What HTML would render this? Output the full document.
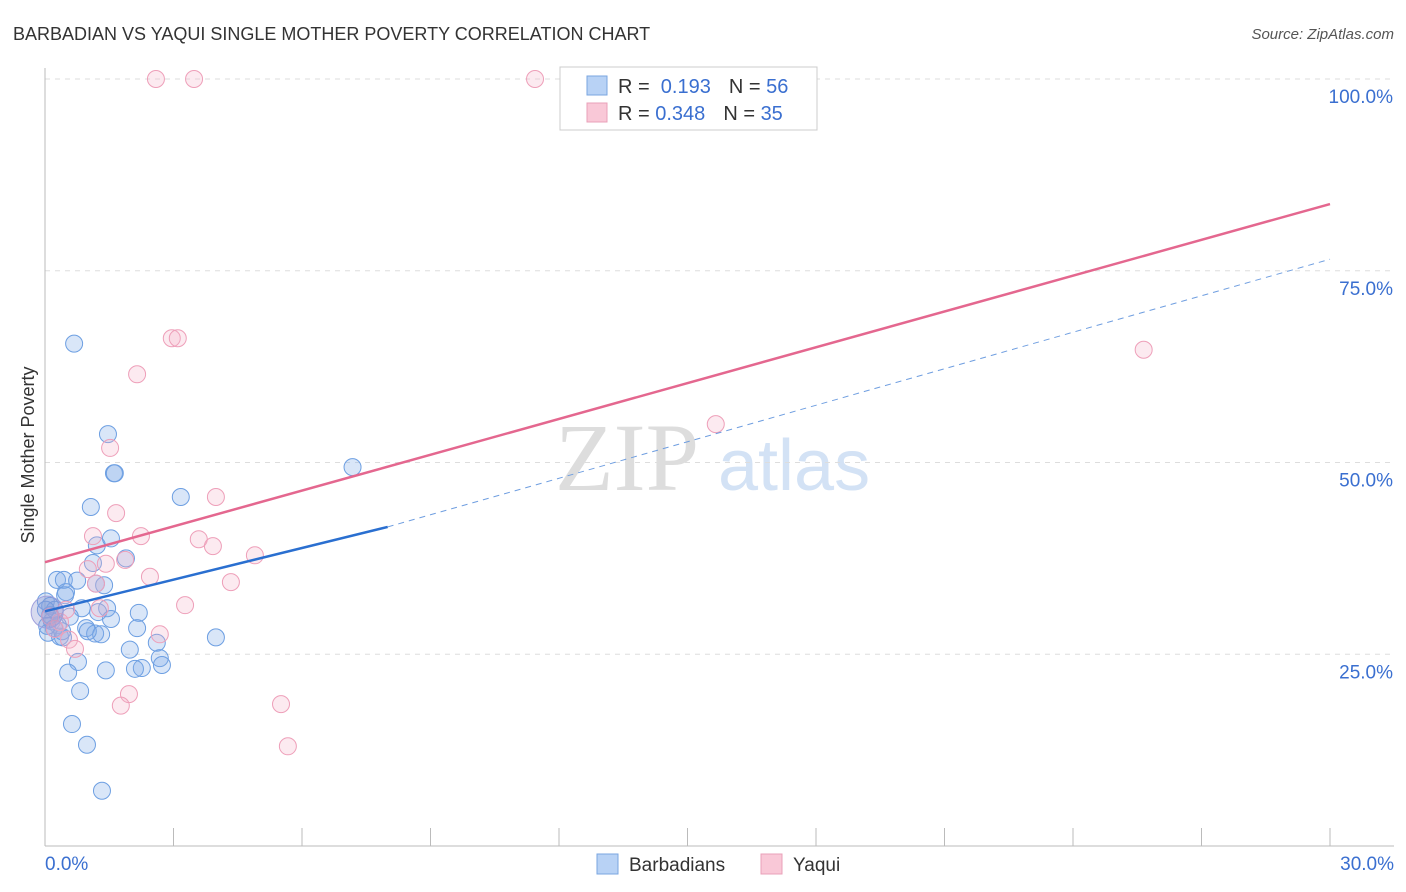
<!DOCTYPE html>
<html><head><meta charset="utf-8"><style>
body{margin:0;background:#fff;font-family:"Liberation Sans",sans-serif}
svg{display:block}
</style></head><body>
<svg id="chart" width="1406" height="892" xmlns="http://www.w3.org/2000/svg">
<text x="13" y="40" font-size="18" fill="#333">BARBADIAN VS YAQUI SINGLE MOTHER POVERTY CORRELATION CHART</text>
<text x="1394" y="39" font-size="15" fill="#555" font-style="italic" text-anchor="end">Source: ZipAtlas.com</text>
<text x="555" y="490" font-size="96" fill="#ddd" font-family="Liberation Serif,serif">ZIP</text>
<text x="718" y="490" font-size="72" fill="#d3e2f5">atlas</text>
<g id="grid"></g>
<g id="axes"></g>
<g id="pts"></g>
<g id="lines"></g>
<text transform="translate(34,455) rotate(-90)" font-size="18" fill="#333" text-anchor="middle">Single Mother Poverty</text>
<g>
<rect x="560" y="67" width="257" height="63" fill="#fff" stroke="#ccc"/>
<rect x="587" y="76" width="20" height="19" fill="#b8d2f5" stroke="#7aa6e0"/>
<rect x="587" y="103" width="20" height="19" fill="#f9c8d7" stroke="#e9a0b8"/>
<text x="618" y="93" font-size="20" fill="#333">R = <tspan fill="#3a6fd0">&#160;0.193</tspan><tspan dx="18">N = </tspan><tspan fill="#3a6fd0">56</tspan></text>
<text x="618" y="120" font-size="20" fill="#333">R = <tspan fill="#3a6fd0">0.348</tspan><tspan dx="18">N = </tspan><tspan fill="#3a6fd0">35</tspan></text>
</g>
<g>
<rect x="597" y="854" width="21" height="20" fill="#b8d2f5" stroke="#7aa6e0"/>
<text x="629" y="871" font-size="19" fill="#333">Barbadians</text>
<rect x="761" y="854" width="21" height="20" fill="#f9c8d7" stroke="#e9a0b8"/>
<text x="793" y="871" font-size="19" fill="#333">Yaqui</text>
</g>
</svg>
<script>
const xTicks=[0,3,6,9,12,15,18,21,24,27,30];
const yTicks=[25,50,75,100];
const blueX=[0.68,1.47,1.61,1.63,3.17,7.18,1.07,1.21,1.54,1.89,1.12,0.28,0.44,0.75,1.38,1.19,0.49,0.47,0.02,0.12,0.86,1.45,2.19,1.24,1.54,0.58,0.16,0.21,0.30,0.96,2.15,0.07,1.17,1.31,0.35,0.42,3.99,2.61,1.98,2.68,2.73,0.77,2.26,2.10,1.42,0.54,0.82,0.63,0.98,1.33,0.12,0.23,0.02,0.40,1.00,0.05];
const blueY=[65.5,53.7,48.6,48.6,45.5,49.4,44.2,39.2,40.1,37.5,36.9,34.7,34.7,34.6,34.0,34.2,33.1,32.7,31.9,31.3,31.0,31.0,30.4,30.5,29.6,29.9,29.3,28.4,28.8,28.4,28.4,27.8,27.7,27.6,27.3,27.2,27.2,26.5,25.6,24.5,23.6,24.0,23.2,23.1,22.9,22.6,20.2,15.9,13.2,7.2,30.1,30.8,30.8,28.0,28.0,28.7];
const pinkX=[2.59,3.48,11.44,2.96,3.10,2.15,25.65,15.66,1.52,3.99,1.66,1.12,2.24,3.59,3.92,4.90,1.87,1.42,1.00,2.45,1.19,4.34,3.27,1.28,2.68,0.56,0.70,1.96,1.77,5.51,5.67,0.35,0.12,0.23,0.49];
const pinkY=[100,100,100,66.2,66.2,61.5,64.7,55.0,51.9,45.5,43.4,40.4,40.4,40.0,39.1,37.9,37.3,36.8,36.1,35.1,34.2,34.4,31.4,31.0,27.6,26.9,25.7,19.8,18.3,18.5,13.0,29.2,29.9,28.3,30.8];
const blueTrend=[[0,30.6],[8,41.6],[30,76.5]];
const pinkTrend=[[0,37.0],[30,83.7]];
const X=v=>45+v/30*1285, Y=v=>846-v/100*767;
const NS="http://www.w3.org/2000/svg";
function mk(tag,attrs,parent){const e=document.createElementNS(NS,tag);for(const k in attrs)e.setAttribute(k,attrs[k]);document.getElementById(parent).appendChild(e);return e;}
yTicks.forEach(t=>{
 const l=mk('line',{x1:45,x2:1394,y1:Y(t),y2:Y(t),stroke:'#ddd','stroke-dasharray':'5,5'},'grid');
 
 
 const tx=mk('text',{x:1393,y:Y(t)+24,'font-size':19,fill:'#3a6fd0','text-anchor':'end'},'grid');
 tx.textContent=t.toFixed(1)+'%';
 
 
});
const ax=mk('line',{x1:45,x2:1394,y1:846,y2:846,stroke:'#bbb'},'axes');


const ay=mk('line',{x1:45,x2:45,y1:68,y2:846,stroke:'#bbb'},'axes');


xTicks.forEach(t=>{
 const l=mk('line',{x1:X(t),x2:X(t),y1:828,y2:846,stroke:'#bbb'},'axes');
 
 
});
[[0,'0.0%',45,'start'],[30,'30.0%',1394,'end']].forEach(a=>{
 const tx=mk('text',{x:a[2],y:870,'font-size':19,fill:'#3a6fd0','text-anchor':a[3]},'axes');
 tx.textContent=a[1];
 
 
});
blueX.forEach((v,i)=>{
 const c=mk('circle',{cx:X(v),cy:Y(blueY[i]),r:8.5,fill:'rgba(130,172,232,0.3)',stroke:'#6d9fe2','stroke-width':1},'pts');
 
 
});
pinkX.forEach((v,i)=>{
 const c=mk('circle',{cx:X(v),cy:Y(pinkY[i]),r:8.5,fill:'rgba(246,180,202,0.28)',stroke:'#ee9fb9','stroke-width':1},'pts');
 
 
});
const big=mk('circle',{cx:X(0.05),cy:Y(30.5),r:16,fill:'rgba(140,150,210,0.35)',stroke:'#a0a0dc'},'pts');


const b1=mk('line',{x1:X(blueTrend[0][0]),y1:Y(blueTrend[0][1]),x2:X(blueTrend[1][0]),y2:Y(blueTrend[1][1]),stroke:'#2a6fd0','stroke-width':2.5},'lines');


const b2=mk('line',{x1:X(blueTrend[1][0]),y1:Y(blueTrend[1][1]),x2:X(blueTrend[2][0]),y2:Y(blueTrend[2][1]),stroke:'#6f9ee0','stroke-width':1,'stroke-dasharray':'6,5'},'lines');


const p1=mk('line',{x1:X(pinkTrend[0][0]),y1:Y(pinkTrend[0][1]),x2:X(pinkTrend[1][0]),y2:Y(pinkTrend[1][1]),stroke:'#e4678f','stroke-width':2.5},'lines');


</script>
</body></html>
